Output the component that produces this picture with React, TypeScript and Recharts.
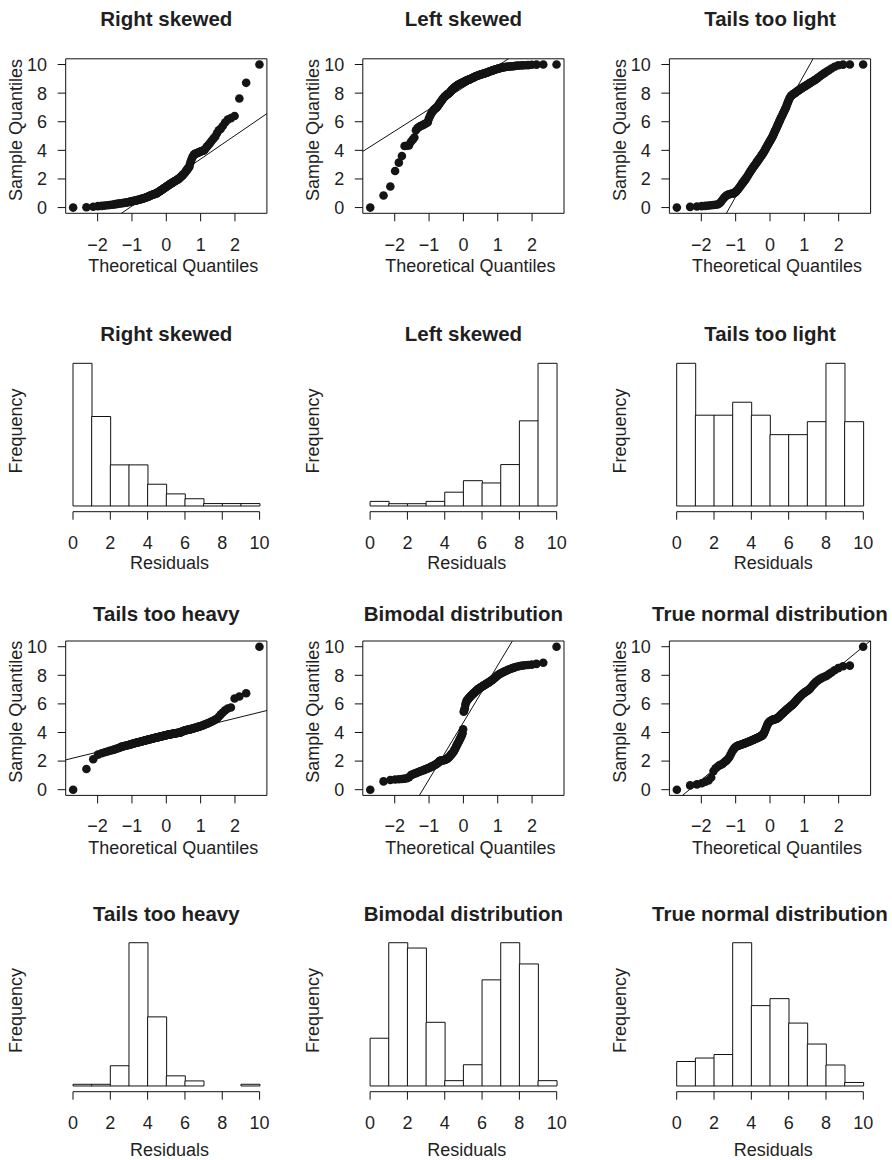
import {
  Bar,
  BarChart,
  ReferenceArea,
  ReferenceLine,
  Scatter,
  ScatterChart,
  XAxis,
  YAxis,
} from "recharts"

// Sorted samples (150 values each), plotted against normal quantiles
const rightSkewed = [
  0, 0.02, 0.06, 0.1, 0.12, 0.14, 0.16, 0.18, 0.2, 0.22,
  0.24, 0.26, 0.28, 0.29, 0.3, 0.32, 0.33, 0.34, 0.36, 0.37,
  0.39, 0.4, 0.42, 0.43, 0.45, 0.46, 0.48, 0.49, 0.5, 0.52,
  0.53, 0.55, 0.56, 0.58, 0.59, 0.61, 0.62, 0.64, 0.65, 0.67,
  0.69, 0.7, 0.72, 0.74, 0.76, 0.78, 0.8, 0.82, 0.84, 0.86,
  0.88, 0.9, 0.91, 0.93, 0.94, 0.96, 0.97, 0.98, 0.99, 1.03,
  1.06, 1.09, 1.11, 1.14, 1.17, 1.19, 1.22, 1.25, 1.28, 1.31,
  1.33, 1.36, 1.39, 1.42, 1.44, 1.47, 1.5, 1.52, 1.55, 1.58,
  1.61, 1.63, 1.66, 1.69, 1.71, 1.74, 1.76, 1.79, 1.82, 1.84,
  1.86, 1.89, 1.91, 1.94, 1.96, 1.99, 2.02, 2.06, 2.1, 2.14,
  2.18, 2.22, 2.27, 2.32, 2.37, 2.42, 2.48, 2.54, 2.6, 2.67,
  2.74, 2.8, 2.88, 3.1, 3.25, 3.4, 3.52, 3.62, 3.7, 3.74,
  3.77, 3.79, 3.81, 3.84, 3.87, 3.9, 3.93, 3.95, 3.97, 3.99,
  4.08, 4.18, 4.28, 4.38, 4.48, 4.6, 4.72, 4.85, 4.97, 5.2,
  5.4, 5.5, 5.7, 5.95, 6.15, 6.25, 6.4, 7.63, 8.72, 10,
]

const leftSkewed = [
  0, 0.84, 1.47, 2.56, 3.14, 3.6, 4.3, 4.32, 4.35, 4.6,
  4.75, 4.9, 5.4, 5.55, 5.62, 5.68, 5.72, 5.76, 5.8, 5.84,
  5.88, 5.93, 5.97, 6.2, 6.35, 6.5, 6.6, 6.7, 6.78, 6.85,
  6.9, 6.95, 6.98, 7.05, 7.12, 7.2, 7.28, 7.35, 7.42, 7.49,
  7.56, 7.62, 7.68, 7.73, 7.78, 7.82, 7.86, 7.9, 7.93, 7.96,
  7.99, 8.03, 8.08, 8.13, 8.18, 8.23, 8.27, 8.31, 8.35, 8.39,
  8.42, 8.45, 8.48, 8.51, 8.54, 8.57, 8.6, 8.62, 8.64, 8.66,
  8.68, 8.7, 8.72, 8.74, 8.76, 8.78, 8.8, 8.82, 8.84, 8.86,
  8.88, 8.9, 8.915, 8.93, 8.945, 8.96, 8.975, 8.99, 9.02, 9.04,
  9.06, 9.08, 9.1, 9.12, 9.14, 9.16, 9.18, 9.2, 9.22, 9.23,
  9.25, 9.26, 9.28, 9.29, 9.31, 9.32, 9.34, 9.35, 9.37, 9.38,
  9.4, 9.41, 9.43, 9.45, 9.47, 9.49, 9.51, 9.53, 9.55, 9.57,
  9.59, 9.61, 9.63, 9.65, 9.67, 9.69, 9.71, 9.73, 9.75, 9.77,
  9.79, 9.8, 9.82, 9.83, 9.84, 9.85, 9.86, 9.87, 9.88, 9.89,
  9.91, 9.92, 9.93, 9.94, 9.95, 9.96, 9.98, 9.99, 10, 10,
]

const tailsLight = [
  0, 0.05, 0.08, 0.1, 0.12, 0.14, 0.16, 0.18, 0.2, 0.22,
  0.28, 0.4, 0.55, 0.68, 0.78, 0.85, 0.9, 0.93, 0.95, 0.97,
  0.98, 0.99, 1.03, 1.08, 1.14, 1.21, 1.29, 1.37, 1.45, 1.53,
  1.61, 1.69, 1.76, 1.83, 1.9, 1.97, 2.05, 2.13, 2.21, 2.29,
  2.37, 2.45, 2.52, 2.59, 2.66, 2.73, 2.8, 2.86, 2.92, 2.98,
  3.05, 3.11, 3.17, 3.23, 3.29, 3.35, 3.41, 3.47, 3.53, 3.59,
  3.65, 3.71, 3.77, 3.83, 3.9, 3.97, 4.05, 4.12, 4.2, 4.27,
  4.34, 4.41, 4.48, 4.55, 4.62, 4.69, 4.76, 4.83, 4.9, 4.97,
  5.06, 5.15, 5.24, 5.33, 5.42, 5.51, 5.6, 5.69, 5.78, 5.87,
  5.96, 6.06, 6.15, 6.24, 6.33, 6.42, 6.51, 6.6, 6.69, 6.78,
  6.87, 6.96, 7.08, 7.2, 7.32, 7.44, 7.56, 7.66, 7.74, 7.8,
  7.85, 7.89, 7.93, 7.96, 7.99, 8.03, 8.07, 8.11, 8.15, 8.19,
  8.23, 8.27, 8.31, 8.35, 8.39, 8.43, 8.47, 8.51, 8.55, 8.6,
  8.65, 8.7, 8.75, 8.8, 8.85, 8.91, 8.97, 9.05, 9.13, 9.21,
  9.3, 9.4, 9.5, 9.6, 9.72, 9.84, 9.95, 9.99, 10, 10,
]

const tailsHeavy = [
  0, 1.45, 2.13, 2.45, 2.55, 2.62, 2.67, 2.72, 2.76, 2.8,
  2.84, 2.88, 2.92, 2.96, 3.01, 3.03, 3.05, 3.07, 3.09, 3.11,
  3.13, 3.15, 3.17, 3.19, 3.21, 3.23, 3.25, 3.26, 3.28, 3.29,
  3.31, 3.32, 3.34, 3.35, 3.37, 3.38, 3.39, 3.41, 3.42, 3.43,
  3.45, 3.46, 3.47, 3.48, 3.5, 3.51, 3.52, 3.53, 3.54, 3.55,
  3.56, 3.58, 3.59, 3.6, 3.61, 3.62, 3.63, 3.64, 3.65, 3.66,
  3.67, 3.68, 3.69, 3.7, 3.71, 3.72, 3.73, 3.74, 3.75, 3.76,
  3.77, 3.78, 3.79, 3.8, 3.81, 3.82, 3.83, 3.84, 3.85, 3.85,
  3.86, 3.87, 3.88, 3.89, 3.9, 3.9, 3.91, 3.92, 3.93, 3.94,
  3.94, 3.95, 3.96, 3.96, 3.97, 3.98, 3.98, 3.99, 3.99, 4.02,
  4.04, 4.06, 4.08, 4.1, 4.12, 4.13, 4.15, 4.16, 4.17, 4.18,
  4.19, 4.2, 4.21, 4.22, 4.24, 4.25, 4.27, 4.28, 4.3, 4.32,
  4.33, 4.35, 4.37, 4.39, 4.41, 4.43, 4.45, 4.47, 4.5, 4.53,
  4.56, 4.59, 4.62, 4.66, 4.7, 4.74, 4.79, 4.84, 4.9, 4.96,
  5.1, 5.25, 5.4, 5.55, 5.68, 5.75, 6.38, 6.52, 6.75, 10,
]

const bimodal = [
  0, 0.58, 0.68, 0.71, 0.73, 0.75, 0.77, 0.8, 0.88, 1.02,
  1.07, 1.12, 1.16, 1.2, 1.24, 1.28, 1.31, 1.34, 1.37, 1.4,
  1.43, 1.46, 1.49, 1.52, 1.55, 1.58, 1.61, 1.64, 1.67, 1.7,
  1.73, 1.76, 1.8, 1.84, 1.88, 1.93, 2.01, 2.02, 2.03, 2.04,
  2.05, 2.06, 2.07, 2.08, 2.09, 2.11, 2.13, 2.16, 2.19, 2.23,
  2.27, 2.32, 2.37, 2.42, 2.47, 2.52, 2.57, 2.63, 2.69, 2.76,
  2.84, 2.93, 3.02, 3.1, 3.18, 3.26, 3.34, 3.42, 3.5, 3.58,
  3.66, 3.75, 3.85, 3.95, 4.22, 5.45, 5.55, 5.7, 5.95, 6.1,
  6.18, 6.25, 6.3, 6.35, 6.4, 6.45, 6.5, 6.54, 6.58, 6.62,
  6.66, 6.7, 6.74, 6.78, 6.82, 6.86, 6.9, 6.94, 6.98, 7.02,
  7.05, 7.08, 7.11, 7.14, 7.17, 7.2, 7.23, 7.26, 7.29, 7.32,
  7.35, 7.38, 7.41, 7.44, 7.47, 7.5, 7.54, 7.58, 7.62, 7.66,
  7.7, 7.75, 7.8, 7.85, 7.9, 7.96, 8.02, 8.06, 8.1, 8.14,
  8.18, 8.22, 8.26, 8.3, 8.34, 8.38, 8.42, 8.46, 8.5, 8.54,
  8.58, 8.62, 8.65, 8.68, 8.7, 8.72, 8.75, 8.8, 8.88, 10,
]

const trueNormal = [
  0, 0.3, 0.37, 0.45, 0.55, 0.65, 0.85, 1.3, 1.5, 1.6,
  1.7, 1.75, 1.8, 1.9, 1.97, 2.05, 2.15, 2.25, 2.4, 2.55,
  2.7, 2.8, 2.9, 2.97, 3.02, 3.05, 3.08, 3.1, 3.12, 3.14,
  3.16, 3.18, 3.2, 3.22, 3.24, 3.26, 3.28, 3.3, 3.32, 3.34,
  3.36, 3.38, 3.4, 3.42, 3.44, 3.46, 3.48, 3.5, 3.52, 3.54,
  3.56, 3.58, 3.6, 3.62, 3.64, 3.66, 3.68, 3.7, 3.72, 3.74,
  3.76, 3.78, 3.82, 3.88, 3.95, 4.05, 4.15, 4.25, 4.35, 4.45,
  4.55, 4.62, 4.68, 4.73, 4.77, 4.8, 4.82, 4.84, 4.86, 4.88,
  4.9, 4.91, 4.92, 4.93, 4.94, 4.95, 4.97, 4.99, 5.02, 5.06,
  5.1, 5.14, 5.18, 5.22, 5.26, 5.3, 5.34, 5.38, 5.42, 5.46,
  5.5, 5.54, 5.58, 5.62, 5.66, 5.7, 5.74, 5.78, 5.82, 5.86,
  5.9, 5.94, 5.98, 6.04, 6.1, 6.16, 6.22, 6.28, 6.34, 6.4,
  6.46, 6.52, 6.58, 6.64, 6.69, 6.74, 6.79, 6.84, 6.89, 6.94,
  6.98, 7.05, 7.15, 7.25, 7.35, 7.45, 7.54, 7.62, 7.7, 7.77,
  7.84, 7.9, 7.96, 8.08, 8.2, 8.35, 8.5, 8.63, 8.68, 10,
]

// Histogram counts for unit-wide residual bins 0-1 ... 9-10
const binEdges = [0, 1, 2, 3, 4, 5, 6, 7, 8, 9, 10]
const rightSkewedCounts = [59, 37, 17, 17, 9, 5, 3, 1, 1, 1]
const leftSkewedCounts = [2, 1, 1, 2, 6, 11, 10, 18, 37, 62]
const tailsLightCounts = [22, 14, 14, 16, 14, 11, 11, 13, 22, 13]
const tailsHeavyCounts = [1, 1, 12, 85, 41, 6, 3, 0, 0, 1]
const bimodalCounts = [9, 27, 26, 12, 1, 4, 20, 27, 23, 1]
const trueNormalCounts = [7, 8, 9, 41, 23, 25, 18, 12, 6, 1]

const qqXTicks = [-2, -1, 0, 1, 2]
const qqYTicks = [0, 2, 4, 6, 8, 10]
const residualTicks = [0, 2, 4, 6, 8, 10]

const FONT = '"Liberation Sans", Arial, Helvetica, sans-serif'
const INK = "#1f1f1f"
const LINE = "#111"
const LABEL_SIZE = 18
const TITLE_SIZE = 20.5
const TICK_LEN = 8
const AXIS_W = 60
const AXIS_H = 60
const CELL_H = 290

const colLeft = [0, 297, 594]
const colWidth = [297, 297, 298]
const colCenter = [166.3, 463.4, 770]
const yLabelX = [16.2, 313.2, 620.3]
const QQ_HALF = 100.6
const HIST_HALF = 93.3

interface RowLayout {
  top: number
  plotTop: number
  plotBottom: number
  titleY: number
  tickY: number
  labelY: number
  yLabelY: number
}

const qqRows: RowLayout[] = [
  { top: 0, plotTop: 58.8, plotBottom: 213.3, titleY: 19.3, tickY: 245, labelY: 265.7, yLabelY: 130 },
  { top: 580, plotTop: 641, plotBottom: 795.4, titleY: 614, tickY: 826, labelY: 848.3, yLabelY: 711.7 },
]

const histRows: RowLayout[] = [
  { top: 290, plotTop: 357.6, plotBottom: 511.7, titleY: 334.3, tickY: 542.3, labelY: 563.3, yLabelY: 431 },
  { top: 870, plotTop: 937, plotBottom: 1091.7, titleY: 914.3, tickY: 1122.3, labelY: 1150, yLabelY: 1010.5 },
]

interface QQPanelSpec {
  title: string
  sample: number[]
  col: number
  row: RowLayout
}

interface HistPanelSpec {
  title: string
  counts: number[]
  col: number
  row: RowLayout
}

const qqPanels: QQPanelSpec[] = [
  { title: "Right skewed", sample: rightSkewed, col: 0, row: qqRows[0] },
  { title: "Left skewed", sample: leftSkewed, col: 1, row: qqRows[0] },
  { title: "Tails too light", sample: tailsLight, col: 2, row: qqRows[0] },
  { title: "Tails too heavy", sample: tailsHeavy, col: 0, row: qqRows[1] },
  { title: "Bimodal distribution", sample: bimodal, col: 1, row: qqRows[1] },
  { title: "True normal distribution", sample: trueNormal, col: 2, row: qqRows[1] },
]

const histPanels: HistPanelSpec[] = [
  { title: "Right skewed", counts: rightSkewedCounts, col: 0, row: histRows[0] },
  { title: "Left skewed", counts: leftSkewedCounts, col: 1, row: histRows[0] },
  { title: "Tails too light", counts: tailsLightCounts, col: 2, row: histRows[0] },
  { title: "Tails too heavy", counts: tailsHeavyCounts, col: 0, row: histRows[1] },
  { title: "Bimodal distribution", counts: bimodalCounts, col: 1, row: histRows[1] },
  { title: "True normal distribution", counts: trueNormalCounts, col: 2, row: histRows[1] },
]

// Inverse standard normal CDF (Acklam's rational approximation)
function qnorm(p: number) {
  const a = [-39.69683028665376, 220.9460984245205, -275.9285104469687, 138.357751867269, -30.66479806614716, 2.506628277459239]
  const b = [-54.47609879822406, 161.5858368580409, -155.6989798598866, 66.80131188771972, -13.28068155288572]
  const c = [-0.007784894002430293, -0.3223964580411365, -2.400758277161838, -2.549732539343734, 4.374664141464968, 2.938163982698783]
  const d = [0.007784695709041462, 0.3224671290700398, 2.445134137142996, 3.754408661907416]
  const tail = (q: number) =>
    (((((c[0] * q + c[1]) * q + c[2]) * q + c[3]) * q + c[4]) * q + c[5]) /
    ((((d[0] * q + d[1]) * q + d[2]) * q + d[3]) * q + 1)
  if (p < 0.02425) return tail(Math.sqrt(-2 * Math.log(p)))
  if (p > 1 - 0.02425) return -tail(Math.sqrt(-2 * Math.log(1 - p)))
  const q = p - 0.5
  const r = q * q
  return (
    ((((((a[0] * r + a[1]) * r + a[2]) * r + a[3]) * r + a[4]) * r + a[5]) * q) /
    (((((b[0] * r + b[1]) * r + b[2]) * r + b[3]) * r + b[4]) * r + 1)
  )
}

// plotting positions, as R's ppoints()
function ppoint(i: number, n: number) {
  const a = n <= 10 ? 3 / 8 : 0.5
  return (i + 1 - a) / (n + 1 - 2 * a)
}

function quantile(sorted: number[], p: number) {
  const h = (sorted.length - 1) * p
  const lo = Math.floor(h)
  const hi = Math.min(lo + 1, sorted.length - 1)
  return sorted[lo] + (h - lo) * (sorted[hi] - sorted[lo])
}

function padRange(lo: number, hi: number): [number, number] {
  const pad = (hi - lo) * 0.04
  return [lo - pad, hi + pad]
}

function formatTick(value: number) {
  return value < 0 ? `\u2212${Math.abs(value)}` : `${value}`
}

const tickStyle = { fill: INK, fontSize: LABEL_SIZE, fontFamily: FONT }

function QQPanel({ sample, col, row }: QQPanelSpec) {
  const n = sample.length
  const points = sample.map((y, i) => ({ x: qnorm(ppoint(i, n)), y }))
  const xDomain = padRange(points[0].x, points[n - 1].x)
  const yDomain = padRange(Math.min(...sample), Math.max(...sample))

  // reference line through the first and third quartiles
  const z1 = qnorm(0.25)
  const z3 = qnorm(0.75)
  const q1 = quantile(sample, 0.25)
  const q3 = quantile(sample, 0.75)
  const slope = (q3 - q1) / (z3 - z1)
  const intercept = q1 - slope * z1
  const xa = (yDomain[0] - intercept) / slope
  const xb = (yDomain[1] - intercept) / slope
  const xLo = Math.max(xDomain[0], Math.min(xa, xb))
  const xHi = Math.min(xDomain[1], Math.max(xa, xb))

  const left = colLeft[col]
  const width = colWidth[col]
  const boxLeft = colCenter[col] - QQ_HALF
  const boxRight = colCenter[col] + QQ_HALF
  const margin = {
    left: boxLeft - left - AXIS_W,
    right: left + width - boxRight,
    top: row.plotTop - row.top,
    bottom: row.top + CELL_H - row.plotBottom - AXIS_H,
  }
  const xTickMargin = row.tickY - 6.5 - row.plotBottom - TICK_LEN

  return (
    <div style={{ position: "absolute", left, top: row.top }}>
      <ScatterChart width={width} height={CELL_H} margin={margin}>
        <XAxis
          type="number"
          dataKey="x"
          domain={xDomain}
          ticks={qqXTicks}
          interval={0}
          allowDataOverflow
          height={AXIS_H}
          axisLine={false}
          stroke={LINE}
          tickSize={TICK_LEN}
          tickMargin={xTickMargin}
          tick={tickStyle}
          tickFormatter={formatTick}
        />
        <YAxis
          type="number"
          dataKey="y"
          domain={yDomain}
          ticks={qqYTicks}
          interval={0}
          allowDataOverflow
          width={AXIS_W}
          axisLine={false}
          stroke={LINE}
          tickSize={TICK_LEN}
          tickMargin={10.6}
          tick={tickStyle}
        />
        <ReferenceArea
          x1={xDomain[0]}
          x2={xDomain[1]}
          y1={yDomain[0]}
          y2={yDomain[1]}
          fill="none"
          fillOpacity={0}
          stroke={LINE}
          strokeWidth={1}
          ifOverflow="visible"
        />
        <Scatter
          data={points}
          isAnimationActive={false}
          shape={(props: any) => <circle cx={props.cx} cy={props.cy} r={4.3} fill="#141414" />}
        />
        <ReferenceLine
          segment={[
            { x: xLo, y: intercept + slope * xLo },
            { x: xHi, y: intercept + slope * xHi },
          ]}
          stroke={LINE}
          strokeWidth={1}
          ifOverflow="visible"
        />
      </ScatterChart>
    </div>
  )
}

function HistPanel({ counts, col, row }: HistPanelSpec) {
  // each bar sits on its bin midpoint of a numeric residual axis
  const bins = counts.map((count, i) => ({ mid: (binEdges[i] + binEdges[i + 1]) / 2, count }))
  const peak = Math.max(...counts)
  const yDomain = [-0.04 * peak, 1.04 * peak]

  const left = colLeft[col]
  const width = colWidth[col]
  const x0 = colCenter[col] - HIST_HALF
  const x1 = colCenter[col] + HIST_HALF
  const margin = {
    left: x0 - left,
    right: left + width - x1,
    top: row.plotTop - row.top,
    bottom: row.top + CELL_H - row.plotBottom - AXIS_H,
  }
  const xTickMargin = row.tickY - 6.5 - row.plotBottom - TICK_LEN

  return (
    <div style={{ position: "absolute", left, top: row.top }}>
      <BarChart width={width} height={CELL_H} data={bins} margin={margin} barCategoryGap={0} barGap={0}>
        <XAxis
          type="number"
          dataKey="mid"
          domain={[binEdges[0], binEdges[binEdges.length - 1]]}
          ticks={residualTicks}
          interval={0}
          height={AXIS_H}
          stroke={LINE}
          axisLine={{ stroke: LINE }}
          tickSize={TICK_LEN}
          tickMargin={xTickMargin}
          tick={tickStyle}
        />
        <YAxis type="number" domain={yDomain} hide />
        <Bar
          dataKey="count"
          fill="#fff"
          stroke={LINE}
          strokeWidth={1}
          isAnimationActive={false}
        />
      </BarChart>
    </div>
  )
}

function PanelText({ title, col, row, xLabel, yLabel, xShift }: {
  title: string
  col: number
  row: RowLayout
  xLabel: string
  yLabel: string
  xShift: number
}) {
  const cx = colCenter[col]
  const yx = yLabelX[col] + LABEL_SIZE * 0.344
  const yy = row.yLabelY
  return (
    <g fill={INK} fontFamily={FONT}>
      <text x={cx} y={row.titleY + TITLE_SIZE * 0.344} textAnchor="middle" fontSize={TITLE_SIZE} fontWeight="bold">
        {title}
      </text>
      <text x={cx + xShift} y={row.labelY + LABEL_SIZE * 0.344} textAnchor="middle" fontSize={LABEL_SIZE}>
        {xLabel}
      </text>
      <text x={yx} y={yy} textAnchor="middle" fontSize={LABEL_SIZE} transform={`rotate(-90 ${yx} ${yy})`}>
        {yLabel}
      </text>
    </g>
  )
}

export default function App() {
  return (
    <div style={{ position: "absolute", left: 0, top: 0, width: 892, height: 1160, background: "#fff" }}>
      {qqPanels.map((p) => (
        <QQPanel key={`qq-${p.title}`} {...p} />
      ))}
      {histPanels.map((p) => (
        <HistPanel key={`hist-${p.title}`} {...p} />
      ))}
      <svg width={892} height={1160} style={{ position: "absolute", left: 0, top: 0, pointerEvents: "none" }}>
        {qqPanels.map((p) => (
          <PanelText
            key={`qq-text-${p.title}`}
            title={p.title}
            col={p.col}
            row={p.row}
            xLabel="Theoretical Quantiles"
            yLabel="Sample Quantiles"
            xShift={7}
          />
        ))}
        {histPanels.map((p) => (
          <PanelText
            key={`hist-text-${p.title}`}
            title={p.title}
            col={p.col}
            row={p.row}
            xLabel="Residuals"
            yLabel="Frequency"
            xShift={3.3}
          />
        ))}
      </svg>
    </div>
  )
}
